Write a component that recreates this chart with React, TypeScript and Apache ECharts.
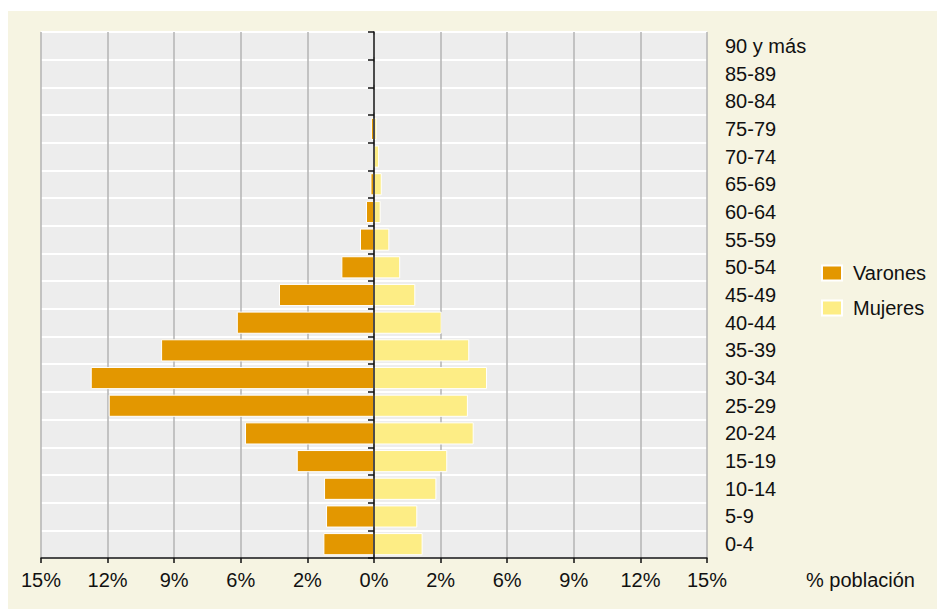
import React, { useEffect, useRef } from "react";
import * as echarts from "echarts";

const categories = ["0-4", "5-9", "10-14", "15-19", "20-24", "25-29", "30-34", "35-39", "40-44", "45-49", "50-54", "55-59", "60-64", "65-69", "70-74", "75-79", "80-84", "85-89", "90 y más"];
const varones = [2.28, 2.16, 2.25, 3.48, 5.81, 11.95, 12.76, 9.59, 6.18, 4.28, 1.47, 0.63, 0.36, 0.16, 0.02, 0.14, 0, 0, 0];
const mujeres = [2.19, 1.95, 2.81, 3.3, 4.49, 4.23, 5.09, 4.29, 3.05, 1.86, 1.18, 0.69, 0.3, 0.35, 0.23, 0.12, 0, 0, 0];
const xTickLabels = ["15%", "12%", "9%", "6%", "2%", "0%", "2%", "6%", "9%", "12%", "15%"];

const FONT = "'Liberation Sans', Arial, Helvetica, sans-serif";

export default function App() {
  const ref = useRef<HTMLDivElement>(null);
  useEffect(() => {
    if (!ref.current) return;
    const chart = echarts.init(ref.current, undefined, { renderer: "svg" });
    chart.setOption({
      animation: false,
      backgroundColor: "#f6f4e2",
      textStyle: { fontFamily: FONT },
      grid: {
        left: 33,
        right: 230,
        top: 21,
        bottom: 51,
        show: true,
        backgroundColor: "#ededed",
        borderWidth: 0,
      },
      legend: {
        orient: "vertical",
        left: 808,
        top: 247,
        itemWidth: 20,
        itemHeight: 15,
        itemGap: 15,
        icon: "rect",
        textStyle: { fontSize: 20, color: "#111", fontFamily: FONT, padding: [0, 0, 0, 6] },
        data: ["Varones", "Mujeres"],
      },
      graphic: [
        {
          type: "text",
          left: 798,
          top: 559,
          style: { text: "% población", fontSize: 20, fill: "#111", fontFamily: FONT },
        },
      ],
      xAxis: {
        type: "value",
        min: -15,
        max: 15,
        interval: 3,
        axisLine: { show: true, onZero: false, lineStyle: { color: "#111", width: 1.5 } },
        axisTick: { show: true, length: 5, lineStyle: { color: "#111", width: 1.5 } },
        axisLabel: {
          fontSize: 20,
          color: "#111",
          margin: 12,
          fontFamily: FONT,
          formatter: (v: number) => xTickLabels[Math.round((v + 15) / 3)] ?? "",
        },
        splitLine: { show: true, lineStyle: { color: "#b3b3b3", width: 1.5 } },
      },
      yAxis: [
        {
          type: "category",
          data: categories,
          position: "right",
          axisLine: { show: false, onZero: false },
          axisTick: { show: false },
          axisLabel: { fontSize: 20, color: "#111", margin: 18, fontFamily: FONT, padding: [5, 0, 0, 0] },
          splitLine: { show: true, lineStyle: { color: "#ffffff", width: 2 } },
        },
        {
          type: "category",
          data: categories,
          position: "left",
          z: 10,
          axisLine: { show: true, onZero: true, lineStyle: { color: "#111", width: 1.5 } },
          axisTick: { show: true, length: 6, lineStyle: { color: "#111", width: 1.5 } },
          axisLabel: { show: false },
          splitLine: { show: false },
        },
      ],
      series: [
        {
          name: "Varones",
          type: "bar",
          stack: "total",
          yAxisIndex: 0,
          barCategoryGap: "20%",
          data: varones.map((v) => -v),
          itemStyle: { color: "#e39700", borderColor: "#ffffff", borderWidth: 1 },
        },
        {
          name: "Mujeres",
          type: "bar",
          stack: "total",
          yAxisIndex: 0,
          barCategoryGap: "20%",
          data: mujeres,
          itemStyle: { color: "#fded85", borderColor: "#ffffff", borderWidth: 1 },
        },
      ],
    });
    return () => chart.dispose();
  }, []);
  return (
    <div
      ref={ref}
      style={{ position: "fixed", left: 8, top: 11, width: 929, height: 598 }}
    />
  );
}
